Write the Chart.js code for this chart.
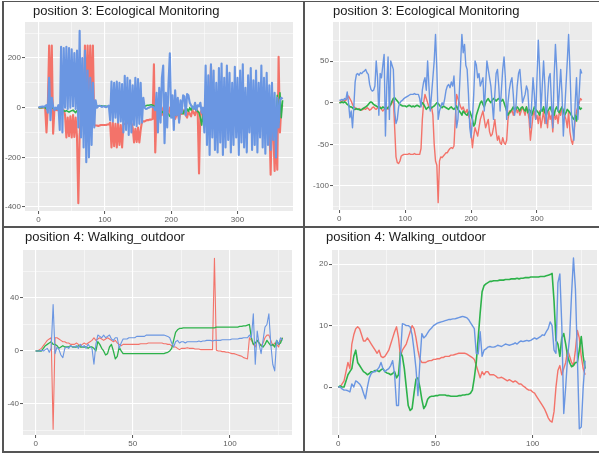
<!DOCTYPE html>
<html>
<head>
<meta charset="utf-8">
<script src="https://cdn.jsdelivr.net/npm/chart.js@4.4.1/dist/chart.umd.min.js"></script>
<style>
  body { margin: 0; background: #fff; }
  #wrap { position: relative; width: 599px; height: 454px; overflow: hidden; font-family: "Liberation Sans", Arial, sans-serif; }
  canvas { position: absolute; }
  .ttl { position: absolute; font-size: 13px; line-height: 15px; color: #1c1c1c; white-space: nowrap; }
  .rule { position: absolute; background: #555555; }
</style>
</head>
<body>
<div id="wrap">
  <canvas id="p1" width="303" height="227" style="left:0;top:0"></canvas>
  <canvas id="p2" width="295" height="227" style="left:304px;top:0"></canvas>
  <canvas id="p3" width="303" height="226" style="left:0;top:228px"></canvas>
  <canvas id="p4" width="295" height="226" style="left:304px;top:228px"></canvas>

  <div class="ttl" style="left:33px;top:3px">position 3: Ecological Monitoring</div>
  <div class="ttl" style="left:333px;top:3px">position 3: Ecological Monitoring</div>
  <div class="ttl" style="left:25px;top:229px">position 4: Walking_outdoor</div>
  <div class="ttl" style="left:326px;top:229px">position 4: Walking_outdoor</div>

  <div class="rule" style="left:2px;top:1px;width:597px;height:1px"></div>
  <div class="rule" style="left:2px;top:1px;width:2px;height:452px"></div>
  <div class="rule" style="left:2px;top:451px;width:597px;height:2px"></div>
  <div class="rule" style="left:303px;top:1px;width:2px;height:452px"></div>
  <div class="rule" style="left:2px;top:226px;width:597px;height:2px"></div>
</div>
<script>
// sample positions: top row every 2 steps (0..368), bottom row every step (0..127)
const xTop = Array.from({ length: 185 }, (_, i) => i * 2);
const xBottom = Array.from({ length: 128 }, (_, i) => i);

// ---- position 3, raw signal
const blue1 = [
  2, 3, 4, 5, 3, 6, 10, -20, 120, -50,
  40, 5, -10, 0, -5, 10, -90, 245, -100, 240,
  0, 245, -5, 240, 0, 235, 5, 220, -5, 230,
  -80, 310, -120, 200, -160, 230, -220, 150, -200, 120,
  -150, 100, -80, 30, 0, 5, 8, 5, 3, 6,
  4, 2, 5, 8, -50, 105, -55, 100, -40, 105,
  -60, 100, -55, 95, -100, 128, -90, 120, -110, 110,
  -100, 90, -70, 120, -75, 115, -65, 100, -60, 40,
  0, -5, -3, 0, 2, 5, 3, 0, -10, 60,
  -100, 80, -60, 120, 170, -143, 60, -80, 100, 219,
  -40, 50, -90, 70, -30, 40, -60, 30, -20, 50,
  45, -30, 55, 50, 20, 10, 0, -5, 20, -10,
  10, 5, 20, -20, 0, -100, 170, -150, 130, -190,
  175, -120, 150, -170, 100, -180, 160, -140, 178, -190,
  120, -160, 170, -130, 140, -180, 100, -150, 165, -120,
  120, -190, 150, -140, 175, -160, 80, -180, 130, -100,
  160, -170, 110, -150, 150, -180, 100, -120, 170, -160,
  120, -185, 140, -150, 90, -170, 100, -130, 60, -200,
  40, -80, 30, 40, 35
];
const red1 = [
  0, 0, 1, 0, 2, 0, -100, 5, 250, 0,
  250, -105, -5, -8, -10, -10, -12, -10, -8, -10,
  -30, -120, -40, -115, -35, -120, -30, -118, -40, -115,
  -385, -110, -20, -10, 0, 250, 0, 250, 50, 250,
  20, 250, -70, -72, -72, -74, -72, -70, -70, -70,
  -70, -70, -68, -68, -60, -160, -60, -155, -65, -160,
  -60, -150, -70, -160, -65, -65, -63, -62, -62, -62,
  -62, -80, -140, -85, -138, -80, -140, -90, -55, -55,
  -55, -52, -50, -50, -48, -48, -46, 175, -180, -10,
  0, -20, 10, -30, 0, -15, -40, -10, -25, 0,
  -20, -35, -10, -45, -30, -20, -50, -15, -25, -10,
  -20, -30, -40, -15, -25, -35, -10, -20, -30, -5,
  -15, -265, -20, -10, -40, -30, 0, -20, -10, -30,
  170, -20, -10, -40, 0, -30, -20, 10, -35, -15,
  -10, -40, -20, 0, -30, -25, -10, -45, -15, -20,
  -30, 0, -20, -40, -10, -25, -35, -15, -20, -5,
  -40, -20, -10, -30, -25, -15, -45, -5, -20, -30,
  -10, -35, -20, -15, -40, -270, -30, -100, -255, -110,
  -250, 205, -100, 0, 10
];
const green1 = [
  0, 0, 0, 1, 2, 0, -5, 2, 5, 0,
  -2, 0, -3, -5, -3, 2, 5, -5, -10, -12,
  -15, -12, -15, -18, -15, -12, -10, -15, -20, -12,
  -10, -8, -5, -15, -10, -5, -8, -5, 0, 2,
  5, 8, 10, 8, 7, 7, 8, 8, 7, 6,
  7, 6, 5, 5, 4, 3, 2, 0, -2, -3,
  -5, -4, -6, -5, -3, -4, -5, -6, -5, -4,
  -5, -3, -2, -4, -5, -6, -3, 0, 2, 4,
  6, 8, 10, 10, 11, 12, 10, 8, 5, 0,
  -5, -10, -15, -20, -15, -25, -20, -30, -25, -35,
  -30, -40, -35, -25, -30, -20, -30, -15, -20, -25,
  -10, -20, -5, -15, 0, -10, 5, 0, -5, -10,
  -15, -20, -40, -70, -25, -80, -30, -60, -20, -15,
  -30, -10, -15, -5, -10, -15, -5, -10, -5, -15,
  -10, -5, -15, -20, -10, -5, -15, -10, -20, -5,
  -10, -15, -5, -20, -10, -15, -5, -10, -20, -10,
  -5, -15, -10, -20, -5, -10, -15, -5, -10, -20,
  -10, -5, -15, -10, -20, -5, -10, -15, -30, -50,
  50, -60, 60, -40, 30
];

// ---- position 3, smoothed
const blue2 = [
  3, 3, 4, 3, 5, 4, 13, 0, -18, -10,
  -30, -5, 25, 34, 35, 33, 36, 35, 37, 38,
  40, 36, 34, 22, 16, 14, 15, 20, 50, 30,
  -15, 35, 30, 45, 58, -40, 20, 55, -20, 50,
  45, 40, -10, -25, -20, -5, 0, 2, 3, 5,
  6, 7, 8, 9, 10, 10, 10, 11, 10, 10,
  10, 5, -5, 15, 25, 30, 15, 50, 20, -10,
  10, 30, 50, 82, 40, -20, -10, -5, 0, -3,
  5, 15, 20, 22, 18, 25, 20, 32, 0, -30,
  -20, 10, 45, 82, 60, 70, 45, 40, 10, -30,
  -42, -20, 10, 50, 45, 30, 35, 20, 25, 30,
  -10, 20, 50, 40, 30, 20, 0, -20, 10, 35,
  40, 20, -10, 15, 40, 55, 30, -20, 0, 15,
  25, 30, 10, -15, -5, 20, 35, 40, 20, 0,
  5, 10, 20, 15, -10, -30, 0, 30, 10, -20,
  30, 75, 40, -10, 20, 50, 20, -25, 5, 30,
  35, 0, -30, 30, 70, 40, -10, 15, 40, 10,
  -40, -10, 20, 50, 82, 40, -10, -30, -45, 0,
  30, -20, 10, 40, 35
];
const red2 = [
  0, 1, 2, 3, 2, 3, 5, 8, 5, 2,
  -2, -5, -6, -8, -8, -7, -8, -9, -8, -7,
  -8, -6, -7, -9, -8, -6, -5, -7, -8, -6,
  -7, -5, -8, -10, -8, -6, -5, -8, -6, -3,
  0, 5, -30, -65, -72, -73, -70, -64, -63, -62,
  -62, -62, -62, -61, -62, -62, -62, -61, -62, -62,
  -62, -62, -55, -20, 0, 10, 5, 0, -5, -8,
  -5, -15, -50, -70, -75, -120, -70, -65, -66, -64,
  -62, -60, -60, -57, -55, -54, -55, -52, -20, 10,
  5, 0, -5, -8, -5, -10, -12, -8, -15, -20,
  -35, -54, -40, -30, -35, -40, -30, -20, -15, -10,
  -20, -30, -25, -20, -35, -40, -38, -30, -20, -35,
  -45, -40, -48, -50, -42, -48, -50, -45, -20, -10,
  -12, -8, -15, -10, -5, -12, -8, -15, -10, -5,
  -10, -15, -5, -10, -20, -45, -30, -15, -10, -20,
  -15, -25, -10, -30, -20, -10, -25, -15, -30, -10,
  -20, -15, -35, -10, -20, -15, -25, -10, -15, -5,
  -10, -15, -20, -30, -10, -35, -45, -50, -40, -20,
  -10, -5, 0, 5, 3
];
const green2 = [
  0, 0, 1, 0, 1, 0, -2, -3, -5, -5,
  -6, -8, -8, -7, -8, -8, -9, -8, -7, -6,
  -5, -4, -2, 0, 1, 0, -2, -3, -4, -5,
  -5, -6, -7, -5, -6, -8, -7, -6, -4, -2,
  2, 5, 6, 4, 2, 0, -2, -3, -4, -4,
  -4, -5, -4, -3, -4, -5, -4, -5, -4, -3,
  -4, -5, -3, 0, -2, -5, -8, -6, -5, -7,
  -6, -5, -4, -2, 0, -1, -3, -5, -6, -4,
  -5, -6, -7, -8, -6, -5, -7, -8, -6, -4,
  -8, -10, -12, -15, -10, -12, -14, -15, -12, -10,
  -15, -20, -28, -25, -15, -10, -5, 0, 2, -2,
  -5, 0, 3, 5, 2, 0, 3, 5, 4, 2,
  4, 5, 3, 2, 4, 0, -5, -10, -15, -12,
  -10, -8, -5, -10, -8, -5, -7, -10, -6, -5,
  -8, -10, -5, -12, -8, -10, -15, -10, -5, -8,
  -10, -12, -15, -8, -10, -5, -12, -15, -10, -8,
  -5, -10, -12, -15, -8, -5, -10, -12, -8, -5,
  -10, -15, -12, -8, -10, -12, -15, -18, -20, -15,
  -22, -10, -5, -8, -6
];

// ---- position 4, raw signal
const blue3 = [
  0, 0, 0, 0.5, 0, 1, 2, -1, 2, 35,
  -2, 3, 1, -3, -5, 2, 3, 2, 4, 3,
  3, 4, 2, 5, 3, 4, 2, 5, 3, 2,
  -10, 5, 12, 11, 10, 12, 10, 11, 12, 9,
  8, 10, 10, 2, 6, 9, 9, 9, 10, 10,
  10, 10, 11, 11, 11, 11, 11, 12, 12, 12,
  12, 12, 12, 12, 12, 12, 12, 11.5, 11, 10,
  6, 3, 7, 8, 6, 7, 7, 6, 7, 7,
  7, 7, 7, 7, 7.5, 7, 7.5, 7.5, 8, 8,
  8, 7.5, 8, 8, 8, 8, 8.5, 8.5, 8.5, 8.5,
  8.5, 9, 9, 9, 9, 9.5, 9.5, 10, 10, 10,
  12, 10, 28, -10, 15, 5, -2, 8, 18, 20,
  28, 5, -10, -15, 8, 5, 10, 8
];
const red3 = [
  0, 0, 1, 2, 4, 6, 8, 9, 10, -59,
  10, 10, 9, 8, 7, 7, 6, 6, 5, 5,
  5, 6, 5, 4, 5, 6, 5, 6, 7, 8,
  10, 8, 9, 10, 9, 8, 9, 10, 9, 8,
  7, 8, 6, 5, 4, 5, 5, 5, 5, 5,
  5, 5, 5, 5, 5.5, 5.5, 5.5, 5.5, 6, 6,
  6, 6, 6, 6, 6, 6, 5.5, 5.5, 5, 5,
  4, 3, 3, 2, 1, 2, 2, 2, 2.5, 2,
  2, 2, 1.5, 1.5, 1.5, 1, 1, 1, 1, 1,
  1, 1, 70, 0.5, 0, 0, -0.5, -0.5, -1, -1,
  -1.5, -2, -2, -2.5, -3, -3.5, -4, -5, -5.5, -6,
  10, 8, 5, 3, 8, 6, 4, 6, 10, 12,
  12, 8, 4, 6, 5, 3, 8, 10
];
const green3 = [
  0, 0, 0, 0, 2, 4, 5, 6, 7, 5,
  5, 4, 2, 3, 4, 3, 3, 3, 4, 3,
  3, 3, 4, 3, 3, 3, 3, 2, 3, 3,
  2, 0, 7, 5, 2, 0, -3, -2, 3, 5,
  0, -6, -4, 3, 0, -2, -2, -2, -2, -2,
  -2, -2, -2, -2, -2, -2, -2, -2, -2, -2,
  -2, -2, -2, -2, -2, -2, -2, -1.5, -1, 0,
  2, 8, 14, 16, 17, 17, 17.5, 17.5, 17.5, 17.5,
  17.5, 17.5, 17.5, 17.5, 17.5, 17.5, 17.5, 17.5, 17.5, 17.5,
  17.5, 17.5, 17.5, 18, 18, 18, 18, 18, 18, 18,
  18, 18, 18, 18, 18, 18.5, 18.5, 19, 19, 19.5,
  20, 10, 5, 6, 8, 6, 4, 3, 5, 8,
  6, 4, 5, 3, 8, 5, 6, 10
];

// ---- position 4, smoothed
const blue4 = [
  0, 0, -0.3, -0.5, -0.5, -0.6, -0.8, 0.5, 0, 1,
  0.8, 0.5, 0, -1, -1.9, 0, 1.5, 2.2, 2.5, 2.5,
  2.8, 3.2, 4, 3, 2.5, 2.8, 3, 3.5, 4.3, 2,
  -3, -3, 5, 10.3, 10.2, 10, 10, 9.8, 8.5, 6,
  3, -1.4, 4, 8.7, 8, 8.3, 8.8, 9.3, 9.6, 10,
  10.2, 10.4, 10.5, 10.6, 10.7, 10.8, 10.9, 11, 11, 11.1,
  11.1, 11.2, 11.3, 11.4, 11.5, 11.4, 11.3, 11, 10.5, 10,
  9.5, 5.5, 5.4, 9, 5, 6, 6.2, 6.5, 6.6, 6.5,
  6.5, 6.6, 6.8, 6.7, 6.6, 6.8, 7, 6.9, 6.8, 6.9,
  7, 7.2, 7, 7.3, 7.5, 7.4, 7.5, 7.6, 7.5, 7.6,
  7.8, 8, 7.8, 8, 8.2, 8.5, 8.4, 9, 9.5, 10.6,
  10, 6, 5.5, 17, 18.4, 10, -4.3, 0, 5, 8,
  15, 21, 16, 5, -6.8, -6.5, 0, 4.3
];
const red4 = [
  0, 0, 0.5, 1, 2.5, 4, 3, 7, 8.5, 9.5,
  9.8, 9.5, 8.5, 7.5, 7.5, 8, 7.5, 7, 6.5, 6,
  5.5, 6, 5, 4.8, 5, 5.5, 6, 7, 8, 9,
  9.8, 8, 5, 6, 6.5, 7, 8, 9, 10, 9.5,
  8, 6, 4.5, 4, 4, 4, 4.2, 4.3, 4.3, 4.5,
  4.5, 4.6, 4.6, 4.8, 4.8, 5, 5, 5, 5.2, 5.2,
  5.3, 5.4, 5.5, 5.5, 5.5, 5.5, 5.4, 5.2, 5, 4.8,
  4.5, 3.5, 2.5, 1.5, 2.5, 2, 2.5, 2.5, 2, 2,
  2, 1.8, 1.5, 1.5, 1.6, 1.4, 1.2, 1, 1.2, 1,
  0.8, 1, 0.8, 0.5, 0.5, 0.2, 0, -0.3, -0.5, -0.5,
  -0.8, -1, -1.5, -2, -2.5, -3, -3.5, -4.2, -5, -5.5,
  -5.7, -4, 0, 2.7, 3.5, 2, 3, 4, 6, 5,
  4, 3.5, 6, 9.2, 8, 5, 3, 2
];
const green4 = [
  0, 0.2, 0, 0, 1, 2, 2.5, 3, 5, 6,
  4, 3.5, 3, 2.5, 2.3, 2, 2.2, 2.5, 2.5, 2.7,
  2.7, 2.5, 2.8, 3, 2.5, 2.3, 2.2, 2, 2.2, 2.5,
  1.5, 2, 5.7, 5, 3, 0, -3, -3.8, -3.5, -1,
  1.3, 1.5, 0, -2, -3.5, -3, -2, -1.6, -1.5, -1.5,
  -1.4, -1.4, -1.3, -1.3, -1.3, -1.3, -1.4, -1.4, -1.5, -1.5,
  -1.5, -1.5, -1.4, -1.4, -1.3, -1.3, -1.2, -1.2, -1, -0.5,
  1.5, 4, 8, 12, 15.5, 16.5, 16.8, 17, 17.2, 17.2,
  17.3, 17.3, 17.3, 17.4, 17.4, 17.4, 17.5, 17.5, 17.5, 17.6,
  17.6, 17.6, 17.7, 17.6, 17.7, 17.7, 17.8, 17.8, 17.8, 17.9,
  17.9, 17.9, 17.9, 17.9, 18, 18, 18, 18.1, 18.2, 18.3,
  18.5, 14, 7.6, 7, 5, 8, 8.7, 7, 5, 4,
  3.3, 3.5, 4, 4, 6, 8.2, 5, 3
];

// tick positions (majors get labels, the rest are minor grid lines)
const xTicksTop = [0, 50, 100, 150, 200, 250, 300, 350];
const xMajorTop = [0, 100, 200, 300];
const yTicks1 = [300, 200, 100, 0, -100, -200, -300, -400];
const yMajor1 = [200, 0, -200, -400];
const yTicks2 = [75, 50, 25, 0, -25, -50, -75, -100, -125];
const yMajor2 = [50, 0, -50, -100];
const xTicksBottom = [0, 25, 50, 75, 100, 125];
const xMajorBottom = [0, 50, 100];
const yTicks3 = [60, 40, 20, 0, -20, -40, -60];
const yMajor3 = [40, 0, -40];
const yTicks4 = [20, 15, 10, 5, 0, -5];
const yMajor4 = [20, 10, 0];

const RED = '#F3736A';
const GREEN = '#2DB24A';
const BLUE = '#6A96E2';
const FONT = '"Liberation Sans", Arial, sans-serif';

const panelBg = {
  id: 'panelBg',
  beforeDraw(chart) {
    const { ctx, chartArea: a } = chart;
    ctx.save();
    ctx.fillStyle = '#EBEBEB';
    ctx.fillRect(a.left, a.top, a.right - a.left, a.bottom - a.top);
    ctx.restore();
  }
};

function series(xs, ys, color, width) {
  return {
    data: ys.map((y, i) => ({ x: xs[i], y: y })),
    borderColor: color,
    borderWidth: width,
    borderJoinStyle: 'round',
    pointRadius: 0,
    tension: 0,
    fill: false
  };
}

function axis(dir, range, ticks, major, size) {
  const isMajor = c => !!c.tick && major.includes(c.tick.value);
  return {
    type: 'linear',
    min: range[0],
    max: range[1],
    afterBuildTicks: s => { s.ticks = ticks.map(v => ({ value: v })); },
    afterFit: s => { if (dir === 'x') s.height = size; else s.width = size; },
    ticks: {
      autoSkip: false,
      maxRotation: 0,
      padding: 1,
      color: '#5e5e5e',
      font: { family: FONT, size: 8 },
      callback: v => major.includes(v) ? String(v) : ''
    },
    grid: {
      color: '#ffffff',
      lineWidth: c => isMajor(c) ? 1.1 : 0.5,
      tickLength: 3,
      tickWidth: 1,
      tickColor: c => isMajor(c) ? '#555555' : 'rgba(0,0,0,0)'
    },
    border: { display: false }
  };
}

// lw = [blue, green, red] line widths
function panel(id, p) {
  new Chart(document.getElementById(id), {
    type: 'line',
    data: {
      datasets: [
        series(p.xs, p.blue, BLUE, p.lw[0]),
        series(p.xs, p.green, GREEN, p.lw[1]),
        series(p.xs, p.red, RED, p.lw[2])
      ]
    },
    options: {
      responsive: false,
      animation: false,
      devicePixelRatio: 1,
      events: [],
      layout: { padding: { top: p.top, right: p.right, left: 0, bottom: 0 } },
      plugins: { legend: { display: false }, tooltip: { enabled: false } },
      scales: {
        x: axis('x', p.xRange, p.xTicks, p.xMajor, p.xH),
        y: axis('y', p.yRange, p.yTicks, p.yMajor, p.yW)
      }
    },
    plugins: [panelBg]
  });
}

panel('p1', {
  xs: xTop, blue: blue1, green: green1, red: red1, lw: [2.1, 1.6, 2.1],
  xRange: [-20.4, 383.7], yRange: [-416, 345],
  xTicks: xTicksTop, xMajor: xMajorTop, yTicks: yTicks1, yMajor: yMajor1,
  top: 22, right: 10, xH: 16, yW: 25
});
panel('p2', {
  xs: xTop, blue: blue2, green: green2, red: red2, lw: [1.4, 1.6, 1.4],
  xRange: [-9.6, 383.5], yRange: [-128.8, 96.9],
  xTicks: xTicksTop, xMajor: xMajorTop, yTicks: yTicks2, yMajor: yMajor2,
  top: 22, right: 7, xH: 17, yW: 29
});
panel('p3', {
  xs: xBottom, blue: blue3, green: green3, red: red3, lw: [1.1, 1.3, 1.1],
  xRange: [-6.5, 131.9], yRange: [-63.4, 76.2],
  xTicks: xTicksBottom, xMajor: xMajorBottom, yTicks: yTicks3, yMajor: yMajor3,
  top: 22, right: 11, xH: 19, yW: 23
});
panel('p4', {
  xs: xBottom, blue: blue4, green: green4, red: red4, lw: [1.4, 1.6, 1.4],
  xRange: [-3.2, 133.1], yRange: [-7.8, 22.3],
  xTicks: xTicksBottom, xMajor: xMajorBottom, yTicks: yTicks4, yMajor: yMajor4,
  top: 22, right: 2, xH: 19, yW: 28
});
</script>
</body>
</html>
